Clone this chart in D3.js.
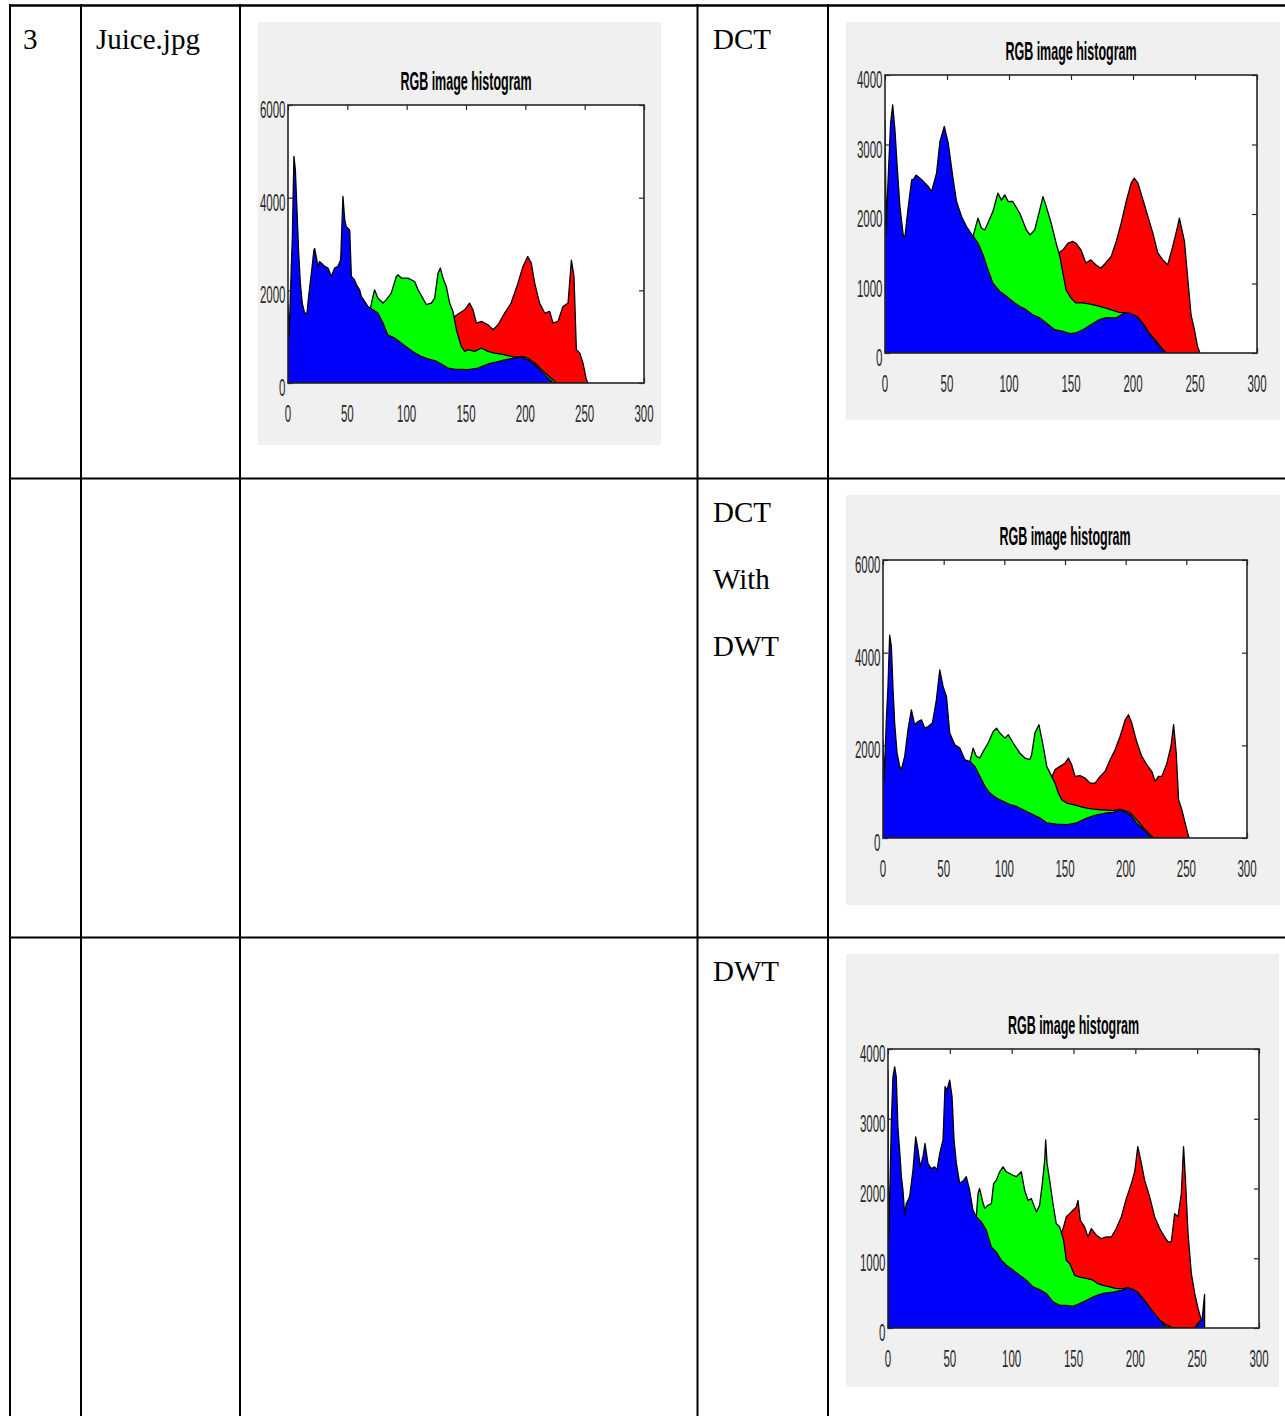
<!DOCTYPE html>
<html>
<head>
<meta charset="utf-8">
<script src="https://cdn.jsdelivr.net/npm/d3@7"></script>
<style>
  body { margin: 0; background: #fff; }
  svg { display: block; }
</style>
</head>
<body>
<div id="page"></div>
<script>
// histogram values, [intensity level, pixel count]
// original Juice.jpg
const origR = [[128,600],[138,1200],[140.5,1440],[144.7,1510],[148.9,1580],[153,1725],[155.9,1580],[158.7,1295],[163,1330],[168.5,1258],[172.8,1150],[177,1258],[182.6,1510],[188,1725],[193.8,2155],[198,2516],[202,2730],[205,2590],[207.9,2155],[212,1725],[216.3,1510],[220.5,1545],[223.3,1295],[227.5,1330],[231.7,1650],[236,1725],[238.8,2650],[241,2300],[243,720],[245.8,650],[248.6,430],[251.4,72],[252.8,0]];
const origG = [[66,1200],[71.6,1870],[73,2010],[75.8,1830],[80,1725],[82.9,1800],[87,1940],[91.3,2300],[92.7,2335],[95.5,2265],[101,2265],[106.7,2190],[109.6,2010],[112,1905],[116.6,1690],[120.8,1725],[123.6,1830],[126.4,2370],[128.4,2480],[130.6,2265],[133.4,2085],[136.2,1725],[139,1545],[141.9,1150],[146,790],[148.9,683],[151.7,720],[157.3,683],[163,755],[168.5,683],[174,647],[179.8,625],[185.4,590],[191,560],[196.6,575],[202,540],[207.9,430],[213.5,290],[219,160],[224.7,36],[226,0]];
const origB = [[0,1700],[1,1000],[1.4,1365],[2.8,2516],[3.7,3160],[4.5,4240],[5,4890],[6.2,4600],[7,4100],[7.9,3520],[9,2800],[10.4,2155],[12,1725],[14,1510],[16,1510],[17.4,1870],[19.7,2370],[21.9,2875],[22.5,2900],[25.3,2516],[26.5,2620],[28,2590],[30.9,2516],[33.7,2480],[36.5,2300],[39.3,2480],[42,2516],[44.4,2660],[46.3,4025],[47.8,3520],[49,3380],[52,3300],[53.4,2300],[56,2230],[58,2100],[60.4,2010],[61.8,1870],[67.4,1650],[71.6,1580],[75.8,1510],[80,1295],[84,1040],[89.9,970],[95.5,860],[101,755],[106.7,650],[112,575],[118,520],[125,470],[130,400],[134.8,320],[140,300],[151.7,290],[160,320],[168.5,410],[179.8,480],[191,540],[196.6,560],[202,500],[207.9,395],[213.5,250],[219,110],[223,15],[225,0]];

// DCT
const dctR = [[128,700],[137,1300],[140,1440],[143.5,1485],[147.6,1580],[151.6,1605],[154,1580],[158,1485],[162,1295],[166,1340],[170,1270],[174,1220],[178,1295],[182.4,1390],[186.5,1605],[190.5,1870],[194.5,2180],[198.5,2445],[201,2515],[204,2445],[208,2205],[212,1965],[216,1725],[220,1440],[224,1340],[228,1270],[232,1530],[236,1820],[237.4,1940],[241.5,1605],[244,1100],[246.8,550],[249.5,335],[252,95],[254,0]];
const dctG = [[66,1500],[71,1680],[75,1940],[77.8,1795],[80.5,1770],[83,1870],[87,2035],[91,2300],[93.9,2200],[96.6,2275],[99.3,2180],[103,2180],[108.7,2010],[114,1770],[117,1700],[120.7,1770],[124.8,2060],[127.4,2250],[130,2110],[134,1870],[138,1580],[141,1390],[143.5,1150],[146,910],[150,790],[154,720],[159.6,720],[167.5,695],[173,670],[178,645],[183.8,615],[189,585],[193,580],[202.6,535],[208,430],[213,290],[218.7,170],[224,50],[226,0]];
const dctB = [[0,3350],[1,1725],[1.5,2060],[3,2700],[4.5,3300],[6.2,3570],[8,3210],[10,2635],[12,2110],[14.8,1680],[16.1,1680],[18.8,2110],[21.5,2490],[23,2500],[25,2560],[28.2,2515],[30.9,2470],[34.9,2395],[37.6,2325],[41.6,2590],[44.3,3040],[47.8,3260],[51,3020],[55,2490],[57.7,2180],[61.7,1965],[65.7,1820],[71,1680],[75,1580],[79,1415],[83,1200],[87,1005],[92.6,885],[98,815],[103,740],[108.7,670],[114,620],[119,550],[124.8,505],[130,430],[136.8,335],[143.5,310],[149,280],[154,290],[159.6,335],[166,405],[173,480],[178,510],[186.5,505],[193,575],[197,575],[202.6,525],[206.6,455],[210.6,335],[216,215],[221,95],[225.4,25],[227,0]];

// DCT with DWT
const dcwR = [[128,600],[138,1250],[141.8,1475],[145.9,1545],[150,1615],[152.8,1725],[155.5,1580],[158.3,1330],[162.4,1345],[166.5,1295],[170.7,1185],[174.8,1185],[179,1330],[183,1435],[187.2,1690],[191.3,1905],[195.4,2190],[199.6,2550],[202.3,2660],[205,2480],[209,2085],[213.3,1760],[217.5,1580],[221.6,1435],[224.3,1220],[227,1330],[229.8,1330],[234,1615],[237.3,1975],[239.5,2445],[241.7,1830],[243.6,825],[246.3,610],[249,325],[251.8,36],[252.7,0]];
const dcwG = [[66,1400],[71.6,1650],[74.3,1940],[77,1760],[79.8,1725],[82.6,1870],[86.7,2050],[90.8,2300],[93.6,2370],[96.3,2265],[100.5,2155],[103.2,2230],[107.3,2050],[112.8,1830],[117,1725],[121,1690],[122.5,1800],[125.2,2265],[128.5,2445],[131.6,2050],[135,1545],[139,1330],[141.8,1185],[144.5,970],[147.3,825],[151.4,755],[156.9,720],[162.4,680],[168,645],[173.4,625],[179,610],[184.4,600],[190,590],[195.4,625],[203.7,540],[209,395],[214.7,215],[220.2,70],[223,0]];
const dcwB = [[0,2120],[1,1260],[2.75,2550],[4.1,3270],[5.5,4380],[6.9,4130],[8.3,3200],[9.6,2480],[11.6,1830],[13.8,1545],[15.1,1475],[17.9,1760],[20.6,2335],[23.4,2765],[26.1,2445],[28.9,2515],[31.7,2550],[34.4,2370],[37.2,2405],[40.7,2480],[44,2980],[46.8,3630],[49.5,3270],[52.3,3055],[55,2265],[59.2,2010],[63.3,1940],[67.4,1690],[71.6,1650],[75.7,1545],[79.8,1330],[84,1115],[88,970],[93.6,860],[99,790],[104.6,720],[110,680],[115.6,610],[123.9,500],[129.4,430],[135,325],[143,300],[151.4,290],[159.6,325],[168,430],[176,500],[184.4,540],[190,555],[195.4,600],[199.6,555],[203.7,500],[209,325],[214.7,180],[220.2,36],[221.6,0]];

// DWT
const dwtR = [[128,700],[139,1300],[142,1450],[144.2,1595],[146.9,1640],[149.6,1690],[152.3,1735],[153.6,1830],[155.5,1545],[159,1450],[161.7,1305],[164.4,1425],[168.5,1330],[172.5,1280],[176.5,1305],[180.6,1305],[184.6,1425],[188.7,1595],[192.7,1855],[196.8,2070],[199.5,2240],[202,2600],[204.9,2360],[207.5,2120],[211.6,1880],[215.6,1595],[219.7,1425],[223.7,1305],[226.4,1235],[229.1,1235],[231.8,1640],[234.5,1595],[237.2,1930],[239,2600],[240.7,2070],[242.6,1355],[245.3,780],[248,495],[250.7,280],[253.4,110],[256,0]];
const dwtG = [[66,1300],[71.4,1595],[72.8,1930],[74.1,2000],[76.3,1830],[78.2,1715],[80.9,1760],[83.6,1785],[85.4,2070],[87.6,2120],[90.3,2240],[93,2310],[95.7,2240],[98.4,2215],[101,2190],[103.8,2170],[107.8,2240],[110.5,1975],[113.2,1830],[115.9,1855],[120,1665],[122.6,1760],[124.8,2070],[126.7,2405],[127.5,2695],[128.6,2360],[130.7,2120],[133.4,1785],[136,1500],[138.8,1450],[142,1260],[144.2,970],[146.9,925],[150.9,755],[155,730],[160.4,710],[165.8,685],[169.8,635],[173.9,610],[179.2,590],[184.6,565],[190,565],[194,580],[202,515],[207.5,395],[213,255],[218.3,135],[223.7,60],[230.4,0],[248,0],[252,100],[255,60]];
const dwtB = [[0,3675],[0.5,1260],[1.3,1785],[2.7,2930],[4,3600],[5.4,3745],[6.7,3600],[8,2885],[9.4,2550],[10.8,2170],[12.1,1975],[13.5,1620],[14.8,1785],[17.5,1880],[20.2,2265],[22.4,2740],[24.3,2550],[26.1,2310],[28.3,2455],[29.9,2645],[32.3,2360],[35,2285],[37.7,2310],[39.6,2265],[41.8,2500],[44.5,2695],[46.1,3460],[47.7,3410],[49.9,3555],[51.8,3315],[53.4,2695],[55.3,2360],[58,2070],[61.2,2120],[63.3,2170],[66,1975],[68.7,1690],[71.4,1595],[75.5,1520],[79.5,1400],[83.6,1160],[87.6,1090],[91.6,970],[95.7,900],[101,830],[106.5,755],[111.9,685],[117.2,590],[122.6,550],[128,495],[133.4,375],[138.8,325],[144.2,325],[149.6,310],[155,350],[160.4,395],[165.8,445],[173.9,495],[182,515],[188.7,540],[194,575],[199.5,540],[204.9,445],[210.2,325],[215.6,205],[221,85],[225,15],[230,0],[248,0],[252,85],[254,120],[256,480]];

const xTicks = [0, 50, 100, 150, 200, 250, 300];
const yTicks6k = [0, 2000, 4000, 6000];
const yTicks4k = [0, 1000, 2000, 3000, 4000];
const chartTitle = "RGB image histogram";

// table text
const rowNo = "3";
const fileName = "Juice.jpg";
const methodLabels = [["DCT"], ["DCT", "With", "DWT"], ["DWT"]];

const W = 1285, H = 1416;
const svg = d3.select("#page").append("svg")
  .attr("width", W)
  .attr("height", H);

// ---- table grid ----
const colX = [10, 81, 240, 697.5, 828];
const rowY = [5.5, 478.5, 937.5];
colX.forEach(x => {
  svg.append("line").attr("x1", x).attr("x2", x).attr("y1", 4).attr("y2", H)
    .attr("stroke", "#000").attr("stroke-width", 2);
});
rowY.forEach((y, i) => {
  svg.append("line").attr("x1", 9).attr("x2", W).attr("y1", y).attr("y2", y)
    .attr("stroke", "#000").attr("stroke-width", i === 0 ? 2.5 : 2);
});

const serif = "'Liberation Serif', 'Times New Roman', serif";
svg.append("text").attr("x", 23).attr("y", 49.3).text(rowNo)
  .attr("font-family", serif).attr("font-size", 29);
svg.append("text").attr("x", 96).attr("y", 49.3).text(fileName)
  .attr("font-family", serif).attr("font-size", 29);
methodLabels.forEach((lines, r) => {
  lines.forEach((t, j) => {
    svg.append("text").attr("x", 713).attr("y", rowY[r] + 43.8 + j * 66.7).text(t)
      .attr("font-family", serif).attr("font-size", 29);
  });
});

// ---- histograms ----
const charts = [
  {box: [258, 22, 403, 423], plot: [288, 105, 356, 278], yMax: 6000, yTicks: yTicks6k, r: origR, g: origG, b: origB},
  {box: [846, 22, 434, 398], plot: [885, 75, 372, 278], yMax: 4000, yTicks: yTicks4k, r: dctR, g: dctG, b: dctB},
  {box: [846, 495, 434, 410], plot: [883, 560, 364, 278], yMax: 6000, yTicks: yTicks6k, r: dcwR, g: dcwG, b: dcwB},
  {box: [846, 954, 433, 433], plot: [888, 1049, 371, 279], yMax: 4000, yTicks: yTicks4k, r: dwtR, g: dwtG, b: dwtB}
];

const sans = "'Liberation Sans', Arial, Helvetica, sans-serif";
const squeeze = 0.48;

charts.forEach((c, i) => {
  const [bx, by, bw, bh] = c.box;
  const [px, py, pw, ph] = c.plot;
  const g = svg.append("g");

  g.append("rect").attr("x", bx).attr("y", by).attr("width", bw).attr("height", bh)
    .attr("fill", "#f0f0f0");
  g.append("rect").attr("x", px).attr("y", py).attr("width", pw).attr("height", ph)
    .attr("fill", "#fff");

  const x = d3.scaleLinear().domain([0, 300]).range([px, px + pw]);
  const y = d3.scaleLinear().domain([0, c.yMax]).range([py + ph, py]);

  // inward ticks on all four sides (under the data, like matlab)
  const tk = 5;
  g.append("g").attr("transform", `translate(0,${py})`)
    .call(d3.axisTop(x).tickValues(xTicks).tickSize(-tk).tickFormat(""));
  g.append("g").attr("transform", `translate(0,${py + ph})`)
    .call(d3.axisBottom(x).tickValues(xTicks).tickSize(-tk).tickFormat(""));
  g.append("g").attr("transform", `translate(${px},0)`)
    .call(d3.axisLeft(y).tickValues(c.yTicks).tickSize(-tk).tickFormat(""));
  g.append("g").attr("transform", `translate(${px + pw},0)`)
    .call(d3.axisRight(y).tickValues(c.yTicks).tickSize(-tk).tickFormat(""));
  g.selectAll(".domain").remove();
  g.selectAll(".tick line").attr("stroke", "#262626").attr("stroke-width", 1.2);

  const clipId = "clip" + i;
  g.append("clipPath").attr("id", clipId)
    .append("rect").attr("x", px).attr("y", py).attr("width", pw).attr("height", ph);

  const area = d3.area()
    .x(d => x(d[0]))
    .y0(y(0))
    .y1(d => y(d[1]));

  const layers = [[c.r, "#ff0000"], [c.g, "#00ff00"], [c.b, "#0000ff"]];
  const plotG = g.append("g").attr("clip-path", `url(#${clipId})`);
  layers.forEach(([data, col]) => {
    plotG.append("path")
      .datum(data)
      .attr("d", area)
      .attr("fill", col)
      .attr("stroke", "#000")
      .attr("stroke-width", 1.3)
      .attr("stroke-linejoin", "round");
  });

  // box
  g.append("rect").attr("x", px).attr("y", py).attr("width", pw).attr("height", ph)
    .attr("fill", "none").attr("stroke", "#262626").attr("stroke-width", 1.6);

  // tick labels
  xTicks.forEach(t => {
    g.append("text")
      .attr("transform", `translate(${x(t)},${py + ph + 39}) scale(${squeeze},1)`)
      .attr("text-anchor", "middle")
      .attr("font-family", sans).attr("font-size", 24).attr("fill", "#2b2b2b")
      .text(t);
  });
  c.yTicks.forEach(t => {
    g.append("text")
      .attr("transform", `translate(${px - 2.5},${y(t) + 13}) scale(${squeeze},1)`)
      .attr("text-anchor", "end")
      .attr("font-family", sans).attr("font-size", 24).attr("fill", "#2b2b2b")
      .text(t);
  });

  // title
  g.append("text")
    .attr("transform", `translate(${px + pw / 2},${py - 15}) scale(0.5,1)`)
    .attr("text-anchor", "middle")
    .attr("font-family", sans).attr("font-size", 25).attr("font-weight", "bold")
    .attr("fill", "#000")
    .text(chartTitle);
});
</script>
</body>
</html>
